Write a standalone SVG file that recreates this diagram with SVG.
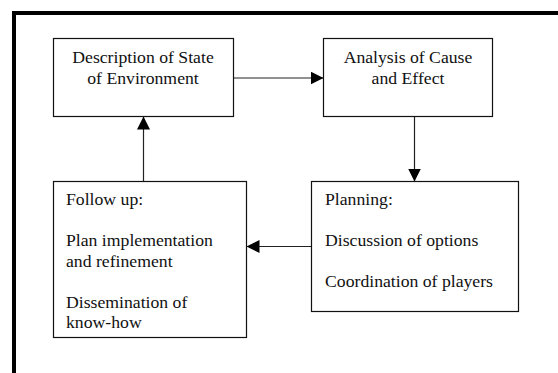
<svg xmlns="http://www.w3.org/2000/svg" width="558" height="373" viewBox="0 0 558 373">
  <style>
    .box { fill: #fff; stroke: #111; stroke-width: 1.2; }
    .frame { fill: none; stroke: #000; stroke-width: 4; }
    .conn { fill: none; stroke: #222; stroke-width: 1.2; }
    text { font-family: "Liberation Serif", "Times New Roman", serif; font-size: 17.7px; fill: #111; }
    .c { text-anchor: middle; }
  </style>
  <defs>
    <marker id="arrow" markerUnits="userSpaceOnUse" markerWidth="14" markerHeight="13" refX="13" refY="6.5" orient="auto">
      <path d="M0,0 L13,6.5 L0,13 z" fill="#000"/>
    </marker>
  </defs>
  <rect width="558" height="373" fill="#fff"/>
  <rect class="frame" x="14" y="13" width="700" height="500"/>

  <g id="connectors">
    <line class="conn" x1="233.5" y1="78" x2="323.5" y2="78" marker-end="url(#arrow)"/>
    <line class="conn" x1="414.5" y1="116.5" x2="414.5" y2="181.5" marker-end="url(#arrow)"/>
    <line class="conn" x1="143.5" y1="181.5" x2="143.5" y2="116.5" marker-end="url(#arrow)"/>
    <line class="conn" x1="311.5" y1="246.5" x2="246.5" y2="246.5" marker-end="url(#arrow)"/>
  </g>

  <g id="description">
    <rect class="box" x="53.5" y="38.5" width="180" height="78"/>
    <text class="c" x="143" y="63">Description of State</text>
    <text class="c" x="143" y="83.5">of Environment</text>
  </g>

  <g id="analysis">
    <rect class="box" x="323.5" y="38.5" width="169" height="78"/>
    <text class="c" x="408" y="63">Analysis of Cause</text>
    <text class="c" x="408" y="83.5">and Effect</text>
  </g>

  <g id="followup">
    <rect class="box" x="53.5" y="181.5" width="193" height="156"/>
    <text x="66" y="205">Follow up:</text>
    <text x="66" y="246">Plan implementation</text>
    <text x="66" y="266.5">and refinement</text>
    <text x="66" y="307.5">Dissemination of</text>
    <text x="66" y="328">know-how</text>
  </g>

  <g id="planning">
    <rect class="box" x="311.5" y="181.5" width="207" height="130"/>
    <text x="325" y="205">Planning:</text>
    <text x="325" y="246">Discussion of options</text>
    <text x="325" y="287">Coordination of players</text>
  </g>
</svg>
